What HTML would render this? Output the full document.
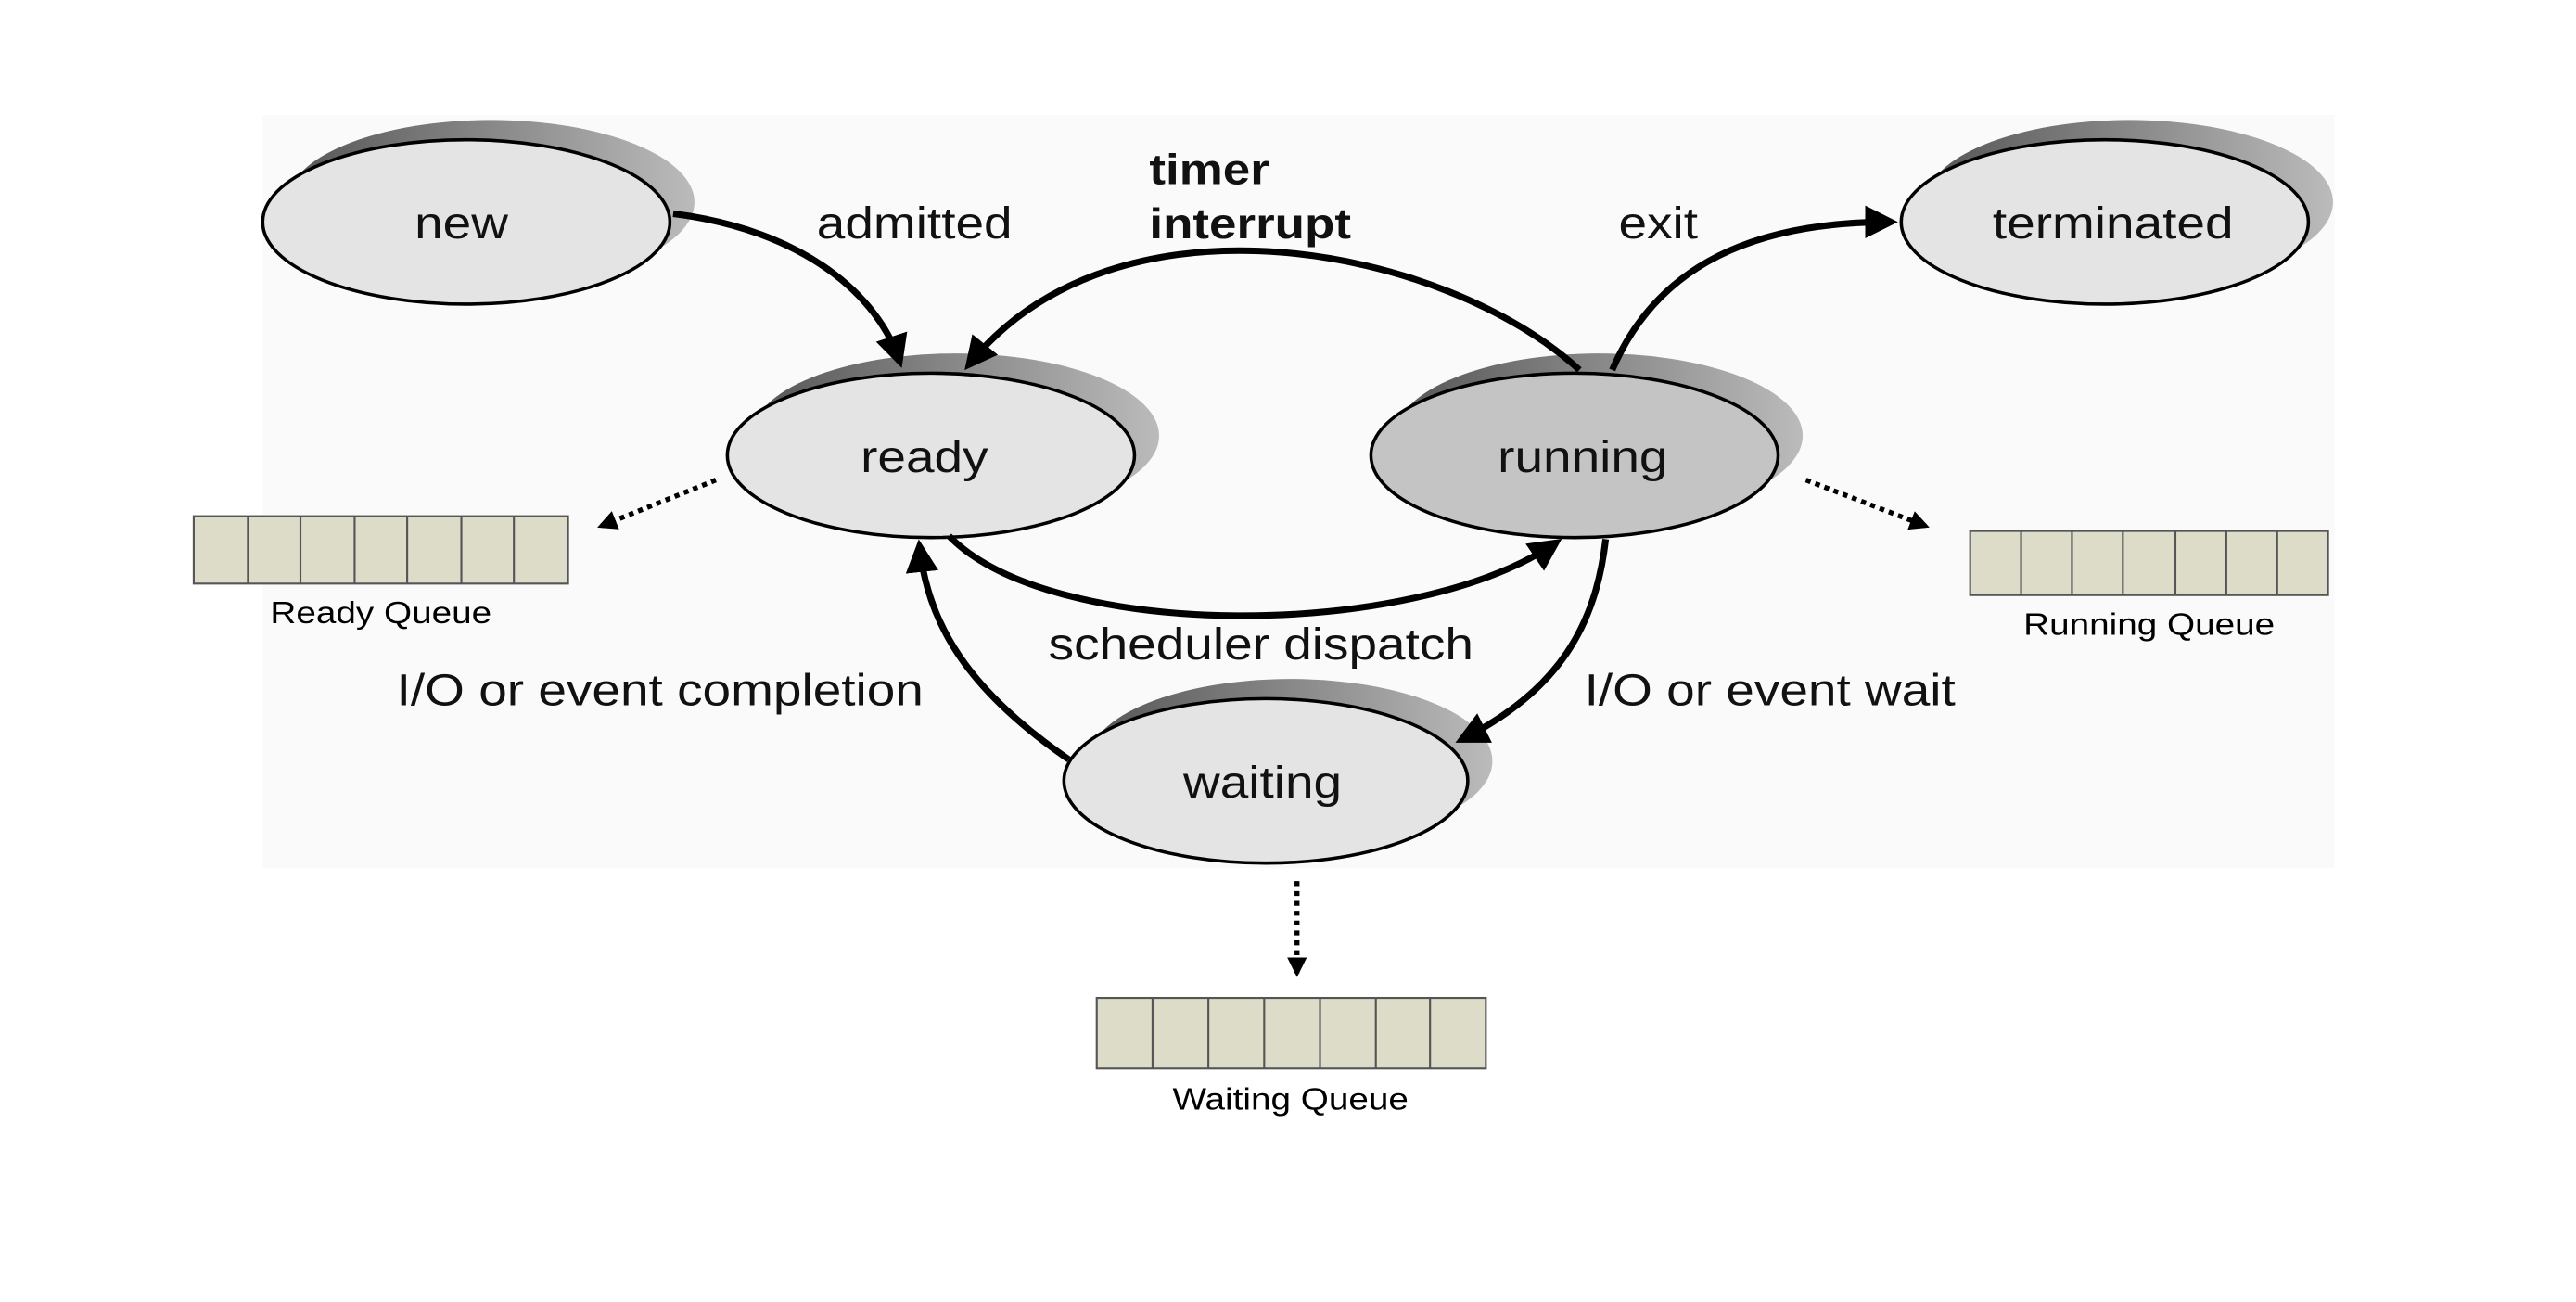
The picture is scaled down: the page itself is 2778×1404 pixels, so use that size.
<!DOCTYPE html>
<html><head><meta charset="utf-8"><style>html,body{margin:0;padding:0;background:#fff}svg{display:block}</style></head>
<body>
<svg width="2778" height="1404" viewBox="0 0 1569 792" preserveAspectRatio="none" xmlns="http://www.w3.org/2000/svg" font-family="Liberation Sans, sans-serif">
<defs>
<linearGradient id="sh" x1="0" y1="0" x2="1" y2="0"><stop offset="0" stop-color="#555"/><stop offset="1" stop-color="#bbb"/></linearGradient>
<marker id="ah" viewBox="0 0 10 10" refX="8" refY="5" markerWidth="5" markerHeight="5" orient="auto"><path d="M0,0 L10,5 L0,10 z" fill="#000"/></marker>
<marker id="as" viewBox="0 0 10 10" refX="8" refY="5" markerWidth="4" markerHeight="4" orient="auto"><path d="M0,0 L10,5 L0,10 z" fill="#000"/></marker>
</defs>
<rect x="160" y="70" width="1262" height="458" fill="#fafafa"/>
<g stroke="#000" stroke-width="2">
<ellipse cx="299" cy="123" rx="124" ry="50" fill="url(#sh)" stroke="none"/>
<ellipse cx="284" cy="135" rx="124" ry="50" fill="#e4e4e4"/>
<ellipse cx="1297" cy="123" rx="124" ry="50" fill="url(#sh)" stroke="none"/>
<ellipse cx="1282" cy="135" rx="124" ry="50" fill="#e4e4e4"/>
<ellipse cx="582" cy="265" rx="124" ry="50" fill="url(#sh)" stroke="none"/>
<ellipse cx="567" cy="277" rx="124" ry="50" fill="#e4e4e4"/>
<ellipse cx="974" cy="265" rx="124" ry="50" fill="url(#sh)" stroke="none"/>
<ellipse cx="959" cy="277" rx="124" ry="50" fill="#c4c4c4"/>
<ellipse cx="786" cy="463" rx="123" ry="50" fill="url(#sh)" stroke="none"/>
<ellipse cx="771" cy="475" rx="123" ry="50" fill="#e4e4e4"/>
</g>
<g fill="none" stroke="#000" stroke-width="4">
<path d="M410,130 C490,140 535,180 548,220" marker-end="url(#ah)"/>
<path d="M962,225 C880,150 680,110 590,222" marker-end="url(#ah)"/>
<path d="M982,225 C1010,160 1070,135 1152,135" marker-end="url(#ah)"/>
<path d="M578,326 C640,390 860,390 948,330" marker-end="url(#ah)"/>
<path d="M978,328 C972,380 950,420 890,450" marker-end="url(#ah)"/>
<path d="M651,462 C590,420 565,380 560,332" marker-end="url(#ah)"/>
</g>
<g fill="none" stroke="#000" stroke-width="3" stroke-dasharray="3,3">
<path d="M436,292 L366,320" marker-end="url(#as)"/>
<path d="M1100,292 L1173,320" marker-end="url(#as)"/>
<path d="M790,536 L790,592" marker-end="url(#as)"/>
</g>
<g stroke="#555" stroke-width="1.2" fill="#dcdcc8">
<rect x="118" y="314" width="228" height="41"/>
<rect x="1200" y="323" width="218" height="39"/>
<rect x="668" y="607" width="237" height="43"/>
</g>
<g stroke="#555" stroke-width="1.2">
<path d="M151,314v41M183,314v41M216,314v41M248,314v41M281,314v41M313,314v41"/>
<path d="M1231,323v39M1262,323v39M1293,323v39M1325,323v39M1356,323v39M1387,323v39"/>
<path d="M702,607v43M736,607v43M770,607v43M804,607v43M838,607v43M871,607v43"/>
</g>
<g font-size="27" fill="#111" text-anchor="middle">
<text transform="translate(281,145) scale(1.15,1)">new</text>
<text transform="translate(1287,145) scale(1.15,1)">terminated</text>
<text transform="translate(563,287) scale(1.15,1)">ready</text>
<text transform="translate(964,287) scale(1.15,1)">running</text>
<text transform="translate(769,485) scale(1.15,1)">waiting</text>
<text transform="translate(557,145) scale(1.15,1)">admitted</text>
<text transform="translate(1010,145) scale(1.15,1)">exit</text>
<text transform="translate(768,401) scale(1.15,1)">scheduler dispatch</text>
<text transform="translate(402,429) scale(1.15,1)">I/O or event completion</text>
<text transform="translate(1078,429) scale(1.15,1)">I/O or event wait</text>
</g>
<g font-size="26" font-weight="bold" fill="#111">
<text transform="translate(700,112) scale(1.15,1)">timer</text>
<text transform="translate(700,145) scale(1.15,1)">interrupt</text>
</g>
<g font-size="19" fill="#000" text-anchor="middle">
<text transform="translate(232,379) scale(1.15,1)">Ready Queue</text>
<text transform="translate(1309,386) scale(1.15,1)">Running Queue</text>
<text transform="translate(786,675) scale(1.15,1)">Waiting Queue</text>
</g>
</svg>
</body></html>
